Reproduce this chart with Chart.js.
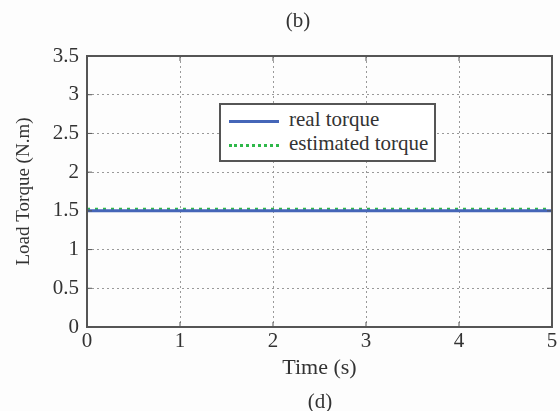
<!DOCTYPE html>
<html>
<head>
<meta charset="utf-8">
<script src="https://cdn.jsdelivr.net/npm/chart.js@4/dist/chart.umd.min.js"></script>
<style>
  body { margin: 0; background: #fdfdfd; }
  #wrap { position: relative; width: 560px; height: 411px; font-family: "Liberation Serif", "DejaVu Serif", serif; color: #333; }
  .cap { position: absolute; font-size: 21px; transform: translateX(-50%); line-height: 22px; }
  #legend { position: absolute; left: 219px; top: 103px; width: 213px; height: 55px; border: 2px solid #555; background: #fff; font-size: 21px; }
  .row { position: absolute; left: 8px; height: 22px; line-height: 22px; white-space: nowrap; }
  .swatch { display: inline-block; width: 50px; vertical-align: middle; margin-right: 10px; }
</style>
</head>
<body>
<div id="wrap">
  <canvas id="myChart" width="560" height="411"></canvas>
  <div class="cap" style="left:298px; top:9px;">(b)</div>
  <div class="cap" style="left:320px; top:390px;">(d)</div>
  <div id="legend">
    <div class="row" style="top:3px;"><span class="swatch" style="border-top:3px solid #4566b8;"></span>real torque</div>
    <div class="row" style="top:27px;"><span class="swatch" style="border-top:3px dotted #2fb84a;"></span>estimated torque</div>
  </div>
</div>
<script>
// data
const timeS = [0, 0.5, 1, 1.5, 2, 2.5, 3, 3.5, 4, 4.5, 5];
const realTorque = [1.5, 1.5, 1.5, 1.5, 1.5, 1.5, 1.5, 1.5, 1.5, 1.5, 1.5];
const estimatedTorque = [1.52, 1.52, 1.52, 1.52, 1.52, 1.52, 1.52, 1.52, 1.52, 1.52, 1.52];
const xTicks = [0, 1, 2, 3, 4, 5];
const yTicks = [0, 0.5, 1, 1.5, 2, 2.5, 3, 3.5];

const serif = "'Liberation Serif', 'DejaVu Serif', serif";

// box round the plot with small inward ticks
const frame = {
    id: 'frame',
    afterDatasetsDraw(chart) {
        const c = chart.ctx;
        const a = chart.chartArea;
        const xs = chart.scales.x, ys = chart.scales.y;
        c.save();
        c.strokeStyle = '#555';
        c.lineWidth = 2;
        c.strokeRect(a.left, a.top, a.right - a.left, a.bottom - a.top);
        c.lineWidth = 1;
        c.beginPath();
        xTicks.forEach(v => {
            const px = xs.getPixelForValue(v);
            c.moveTo(px, a.top); c.lineTo(px, a.top + 5);
            c.moveTo(px, a.bottom); c.lineTo(px, a.bottom - 5);
        });
        yTicks.forEach(v => {
            const py = ys.getPixelForValue(v);
            c.moveTo(a.left, py); c.lineTo(a.left + 5, py);
            c.moveTo(a.right, py); c.lineTo(a.right - 5, py);
        });
        c.stroke();
        c.restore();
    }
};

const ctx = document.getElementById('myChart').getContext('2d');
const myChart = new Chart(ctx, {
    type: 'line',
    data: {
        datasets: [{
            label: 'real torque',
            data: timeS.map((t, i) => ({ x: t, y: realTorque[i] })),
            borderColor: '#4566b8',
            borderWidth: 3,
            pointRadius: 0
        }, {
            label: 'estimated torque',
            data: timeS.map((t, i) => ({ x: t, y: estimatedTorque[i] })),
            borderColor: '#2fb84a',
            borderWidth: 3,
            borderDash: [3, 5],
            pointRadius: 0
        }]
    },
    options: {
        responsive: false,
        animation: false,
        layout: { padding: { top: 56, right: 8, left: 13, bottom: 26 } },
        scales: {
            x: {
                type: 'linear',
                min: 0, max: 5,
                afterBuildTicks: s => { s.ticks = xTicks.map(v => ({ value: v })); },
                afterFit: s => { s.height = 58; },
                grid: { color: '#999', lineWidth: 1, drawTicks: false },
                border: { display: false, dash: [2, 3] },
                ticks: { color: '#333', font: { family: serif, size: 21 }, padding: 2 },
                title: { display: true, text: 'Time (s)', color: '#333', font: { family: serif, size: 22 }, padding: { top: 1 } }
            },
            y: {
                min: 0, max: 3.5,
                afterBuildTicks: s => { s.ticks = yTicks.map(v => ({ value: v })); },
                afterFit: s => { s.width = 74; },
                grid: { color: '#999', lineWidth: 1, drawTicks: false },
                border: { display: false, dash: [2, 3] },
                ticks: { color: '#333', font: { family: serif, size: 21 }, padding: 8, callback: v => String(v) },
                title: { display: true, text: 'Load Torque (N.m)', color: '#333', font: { family: serif, size: 19 }, padding: 0 }
            }
        },
        plugins: {
            legend: { display: false },
            tooltip: { enabled: false }
        }
    },
    plugins: [frame]
});
</script>
</body>
</html>
